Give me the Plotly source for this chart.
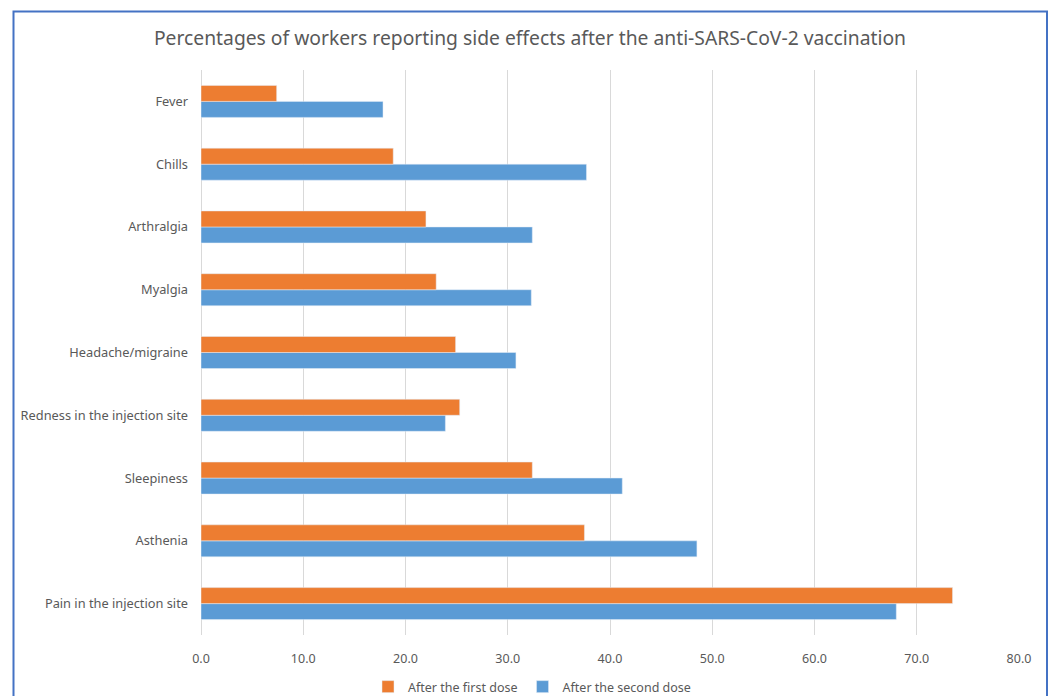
import plotly.graph_objects as go

categories = ["Pain in the injection site", "Asthenia", "Sleepiness",
              "Redness in the injection site", "Headache/migraine", "Myalgia",
              "Arthralgia", "Chills", "Fever"]
first_dose = [73.5, 37.5, 32.4, 25.3, 24.9, 23.0, 22.0, 18.8, 7.4]
second_dose = [68.0, 48.5, 41.2, 23.9, 30.8, 32.3, 32.4, 37.7, 17.8]
x_ticks = [0, 10, 20, 30, 40, 50, 60, 70, 80]

W, H = 1052, 696
L, R, T, B = 201, 33, 70, 61
pw, ph = W - L - R, H - T - B

def px(x):
    return (x - L) / pw

def py(y):
    return (H - B - y) / ph

fig = go.Figure()
fig.add_trace(go.Bar(y=categories, x=second_dose, orientation="h",
                     name="After the second dose", marker_color="#5B9BD5",
                     legendrank=2))
fig.add_trace(go.Bar(y=categories, x=first_dose, orientation="h",
                     name="After the first dose", marker_color="#ED7D31",
                     legendrank=1))

font = "Noto Sans, Open Sans, sans-serif"
fig.update_layout(
    width=W, height=H,
    margin=dict(l=L, r=R, t=T, b=B, autoexpand=False),
    paper_bgcolor="white", plot_bgcolor="white",
    barmode="group", bargap=0.49, bargroupgap=0,
    title=dict(text="Percentages of workers reporting side effects after the anti-SARS-CoV-2 vaccination",
               x=530 / W, xref="container", xanchor="center",
               y=1 - 38 / H, yref="container", yanchor="middle",
               font=dict(family=font, size=19.3, color="#595959")),
    legend=dict(orientation="h", x=368 / W, xref="container", xanchor="left",
                y=1 - 687 / H, yref="container", yanchor="middle",
                font=dict(family=font, size=12.5, color="#595959"),
                itemwidth=30, traceorder="normal", bgcolor="rgba(0,0,0,0)"),
    xaxis=dict(range=[0, 80], tickvals=x_ticks, tickformat=".1f",
               showgrid=True, gridcolor="#D9D9D9", gridwidth=1,
               zeroline=True, zerolinecolor="#D9D9D9", zerolinewidth=1,
               showline=False, ticks="", ticklabelstandoff=14,
               tickfont=dict(family=font, size=12.5, color="#595959"), fixedrange=True),
    yaxis=dict(showgrid=False, zeroline=False, showline=False, ticks="",
               ticklabelstandoff=12,
               tickfont=dict(family=font, size=12.8, color="#595959")),
    shapes=[dict(type="rect", xref="paper", yref="paper",
                 x0=px(13.5), x1=px(1047), y0=py(720), y1=py(11.5),
                 line=dict(color="#4472C4", width=2), fillcolor="rgba(0,0,0,0)",
                 layer="above")],
)

fig.write_html("out.html")
